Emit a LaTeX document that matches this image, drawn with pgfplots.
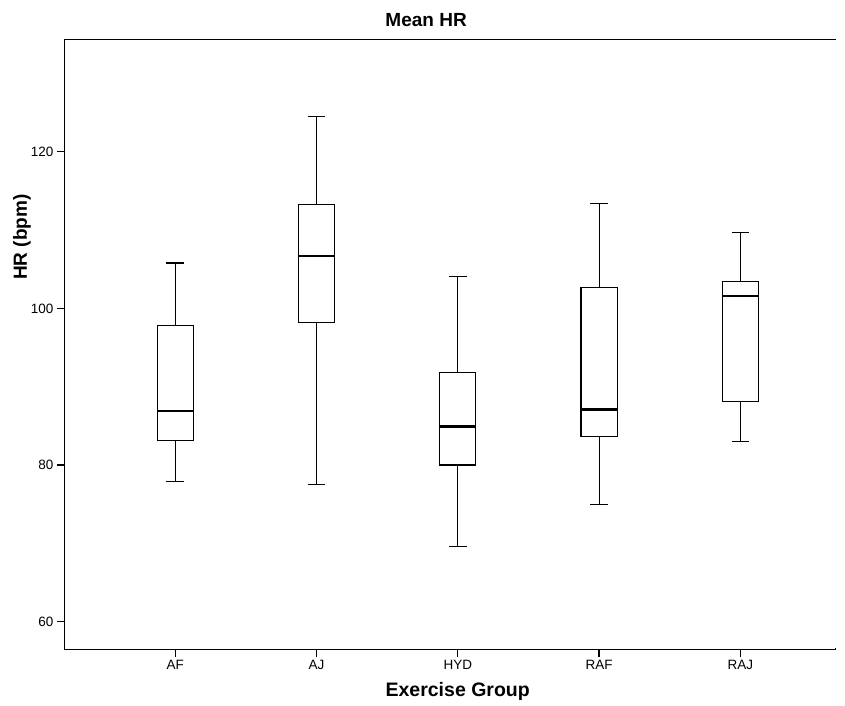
\documentclass[border=0pt]{standalone}
\usepackage{pgfplots}
\pgfplotsset{compat=1.18}
\usepackage{fontspec}
\setmainfont{Liberation Sans}
\begin{document}
\begin{tikzpicture}
\begin{axis}[
  scale only axis,
  width=770pt, height=610pt,
  at={(0,0)}, anchor=south west,
  xmin=-0.78, xmax=4.67,
  ymin=56.5, ymax=134.4,
  axis line style={line width=1pt},
  xtick pos=bottom, ytick pos=left,
  xtick={0,1,2,3,4},
  xticklabels={AF,AJ,HYD,RAF,RAJ},
  ytick={60,80,100,120},
  tick align=outside,
  major tick length=8pt,
  xtick style={draw=black,line width=1.3pt},
  ytick style={draw=black,line width=1.3pt},
  /pgf/number format/assume math mode=true,
  tick label style={font=\fontsize{13.5}{15}\selectfont},
  clip=false,
  unbounded coords=jump,
  boxst/.style={draw=black,line width=1.1pt,line cap=rect,fill=white},
  whst/.style={black,line width=1.1pt},
  medst/.style={black,line width=2.6pt},
]
% AF: lower whisker 77.9, Q1 83.1, median 86.9, Q3 97.85, upper whisker 105.8
\addplot[whst] coordinates {(0,97.85) (0,105.8) (nan,nan) (-0.0625,105.8) (0.0625,105.8) (nan,nan) (0,83.1) (0,77.9) (nan,nan) (-0.0625,77.9) (0.0625,77.9)};
\addplot[boxst] coordinates {(-0.1275,83.1) (0.1275,83.1) (0.1275,97.85) (-0.1275,97.85) (-0.1275,83.1)};
\addplot[medst] coordinates {(-0.1275,86.9) (0.1275,86.9)};
% AJ: 77.5, 98.2, 106.7, 113.3, 124.5
\addplot[whst] coordinates {(1,113.3) (1,124.5) (nan,nan) (0.9375,124.5) (1.0625,124.5) (nan,nan) (1,98.2) (1,77.5) (nan,nan) (0.9375,77.5) (1.0625,77.5)};
\addplot[boxst] coordinates {(0.8725,98.2) (1.1275,98.2) (1.1275,113.3) (0.8725,113.3) (0.8725,98.2)};
\addplot[medst] coordinates {(0.8725,106.7) (1.1275,106.7)};
% HYD: 69.6, 80.0, 84.9, 91.8, 104.1
\addplot[whst] coordinates {(2,91.8) (2,104.1) (nan,nan) (1.9375,104.1) (2.0625,104.1) (nan,nan) (2,80.0) (2,69.6) (nan,nan) (1.9375,69.6) (2.0625,69.6)};
\addplot[boxst] coordinates {(1.8725,80.0) (2.1275,80.0) (2.1275,91.8) (1.8725,91.8) (1.8725,80.0)};
\addplot[medst] coordinates {(1.8725,84.9) (2.1275,84.9)};
% RAF: 74.9, 83.6, 87.1, 102.7, 113.4
\addplot[whst] coordinates {(3,102.7) (3,113.4) (nan,nan) (2.9375,113.4) (3.0625,113.4) (nan,nan) (3,83.6) (3,74.9) (nan,nan) (2.9375,74.9) (3.0625,74.9)};
\addplot[boxst] coordinates {(2.8725,83.6) (3.1275,83.6) (3.1275,102.7) (2.8725,102.7) (2.8725,83.6)};
\addplot[medst] coordinates {(2.8725,87.1) (3.1275,87.1)};
% RAJ: 83.0, 88.1, 101.6, 103.4, 109.7
\addplot[whst] coordinates {(4,103.4) (4,109.7) (nan,nan) (3.9375,109.7) (4.0625,109.7) (nan,nan) (4,88.1) (4,83.0) (nan,nan) (3.9375,83.0) (4.0625,83.0)};
\addplot[boxst] coordinates {(3.8725,88.1) (4.1275,88.1) (4.1275,103.4) (3.8725,103.4) (3.8725,88.1)};
\addplot[medst] coordinates {(3.8725,101.6) (4.1275,101.6)};
% tick marks (outside)
\draw[line width=1.3pt] (axis cs:0,56.5) -- ([yshift=-8pt]axis cs:0,56.5);
\draw[line width=1.3pt] (axis cs:1,56.5) -- ([yshift=-8pt]axis cs:1,56.5);
\draw[line width=1.3pt] (axis cs:2,56.5) -- ([yshift=-8pt]axis cs:2,56.5);
\draw[line width=1.3pt] (axis cs:3,56.5) -- ([yshift=-8pt]axis cs:3,56.5);
\draw[line width=1.3pt] (axis cs:4,56.5) -- ([yshift=-8pt]axis cs:4,56.5);
\draw[line width=1.3pt] (axis cs:-0.78,60) -- ([xshift=-8pt]axis cs:-0.78,60);
\draw[line width=1.3pt] (axis cs:-0.78,80) -- ([xshift=-8pt]axis cs:-0.78,80);
\draw[line width=1.3pt] (axis cs:-0.78,100) -- ([xshift=-8pt]axis cs:-0.78,100);
\draw[line width=1.3pt] (axis cs:-0.78,120) -- ([xshift=-8pt]axis cs:-0.78,120);
% hide the right border (the reference has none)
\draw[white,line width=2.5pt] (rel axis cs:1,0.002) -- (rel axis cs:1,0.998);
\node[font=\bfseries\fontsize{19}{22}\selectfont] at (rel axis cs:0.469,1) [yshift=19pt] {Mean HR};
\node[font=\bfseries\fontsize{19.5}{22}\selectfont] at (rel axis cs:0.51,0) [yshift=-42pt] {Exercise Group};
\node[font=\bfseries\fontsize{19}{22}\selectfont, rotate=90] at (rel axis cs:0,0.675) [yshift=43pt] {HR (bpm)};
\end{axis}
\path[use as bounding box] (-65pt,-56pt) rectangle (780pt,649pt);
\end{tikzpicture}
\end{document}
